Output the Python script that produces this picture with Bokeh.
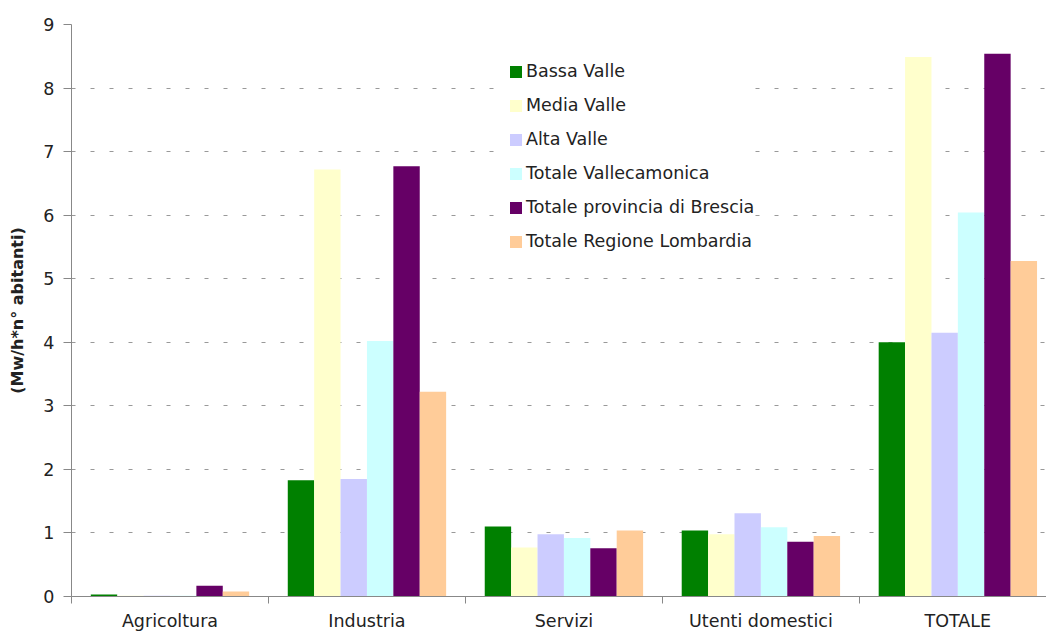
from bokeh.plotting import figure
from bokeh.models import Range1d, FixedTicker, Legend, LegendItem
from bokeh.embed import file_html
from bokeh.resources import INLINE

categories = ["Agricoltura", "Industria", "Servizi", "Utenti domestici", "TOTALE"]
series_names = ["Bassa Valle", "Media Valle", "Alta Valle", "Totale Vallecamonica",
                "Totale provincia di Brescia", "Totale Regione Lombardia"]
bassa_valle = [0.03, 1.83, 1.10, 1.04, 4.00]
media_valle = [0.01, 6.72, 0.77, 0.98, 8.49]
alta_valle = [0.01, 1.85, 0.98, 1.31, 4.15]
totale_vallecamonica = [0.01, 4.02, 0.92, 1.09, 6.04]
totale_brescia = [0.17, 6.77, 0.76, 0.86, 8.54]
totale_lombardia = [0.08, 3.22, 1.04, 0.95, 5.28]
series_colors = ["#008000", "#FFFFCC", "#CCCCFF", "#CCFFFF", "#660066", "#FFCC99"]
y_ticks = [0, 1, 2, 3, 4, 5, 6, 7, 8, 9]

all_series = [bassa_valle, media_valle, alta_valle, totale_vallecamonica,
              totale_brescia, totale_lombardia]

FONT = "DejaVu Sans"

p = figure(width=1046, height=634, output_backend="svg", toolbar_location=None,
           x_range=Range1d(0, 4.95), y_range=Range1d(0, 9),
           min_border_left=71, min_border_right=0, min_border_top=24,
           min_border_bottom=38)
p.outline_line_color = None
p.background_fill_color = "white"

bw = 0.134
items = []
centers = [i + 0.5 for i in range(len(categories))]
for k, (name, vals, col) in enumerate(zip(series_names, all_series, series_colors)):
    xs = [c + (k - 2.5) * bw for c in centers]
    r = p.vbar(x=xs, top=vals, width=bw, bottom=0, fill_color=col, line_color=None)
    items.append(LegendItem(label=name, renderers=[r]))

# axes
p.xaxis.ticker = FixedTicker(ticks=centers, minor_ticks=[0, 1, 2, 3, 4, 5])
p.xaxis.major_label_overrides = {c: lab for c, lab in zip(centers, categories)}
p.xaxis.major_tick_out = 0
p.xaxis.major_tick_in = 0
p.xaxis.minor_tick_out = 7
p.xaxis.minor_tick_in = 0
p.xaxis.minor_tick_line_color = "#888888"
p.xaxis.axis_line_color = "#888888"
p.xaxis.major_label_standoff = 7
p.xaxis.major_label_text_font = FONT
p.xaxis.major_label_text_font_size = "17.5px"
p.xaxis.major_label_text_color = "#222222"

p.yaxis.ticker = FixedTicker(ticks=y_ticks)
p.yaxis.minor_tick_line_color = None
p.yaxis.major_tick_out = 8
p.yaxis.major_tick_in = 0
p.yaxis.major_tick_line_color = "#888888"
p.yaxis.axis_line_color = "#888888"
p.yaxis.major_label_standoff = 9
p.yaxis.major_label_text_font = FONT
p.yaxis.major_label_text_font_size = "17.5px"
p.yaxis.major_label_text_color = "#222222"
p.yaxis.axis_label = "(Mw/h*n° abitanti)"
p.yaxis.axis_label_text_font = FONT
p.yaxis.axis_label_text_font_size = "16px"
p.yaxis.axis_label_text_font_style = "bold"
p.yaxis.axis_label_text_color = "#222222"
p.yaxis.axis_label_standoff = 13

p.xgrid.grid_line_color = None
p.ygrid.ticker = FixedTicker(ticks=y_ticks)
p.ygrid.grid_line_color = "#999999"
p.ygrid.grid_line_dash = "4 15"

legend = Legend(items=items, location=(437, 344))
legend.background_fill_color = "white"
legend.background_fill_alpha = 1.0
legend.border_line_color = None
legend.label_text_font = FONT
legend.label_text_font_size = "17.5px"
legend.label_text_color = "#222222"
legend.glyph_width = 15
legend.glyph_height = 15
legend.label_height = 22
legend.spacing = 12
legend.label_standoff = 3
legend.padding = 10
p.add_layout(legend)

open("out.html", "w").write(file_html(p, INLINE))
